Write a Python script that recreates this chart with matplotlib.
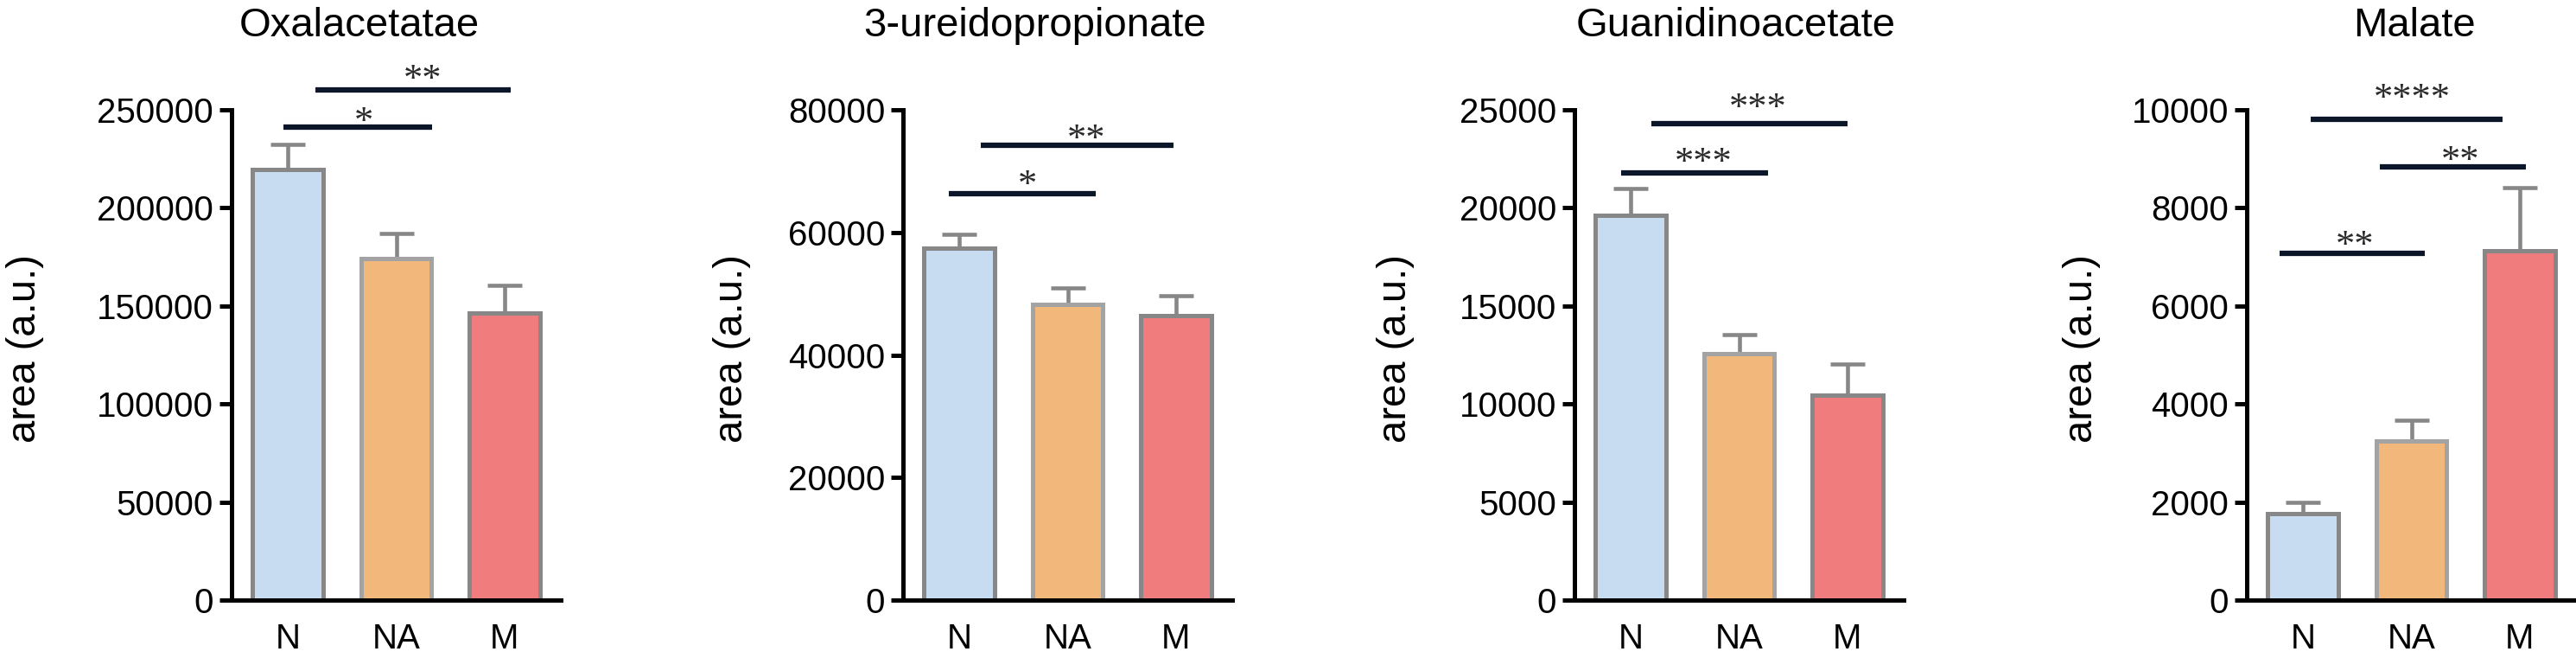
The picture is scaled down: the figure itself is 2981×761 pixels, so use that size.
import matplotlib.pyplot as plt
import numpy as np

plt.rcParams['font.family'] = ['Liberation Sans', 'DejaVu Sans']

groups = ['N', 'NA', 'M']
names = ['Oxalacetatae', '3-ureidopropionate', 'Guanidinoacetate', 'Malate']

oxa_mean = [219500, 174000, 146500]
oxa_sem = [13000, 13000, 14000]
ure_mean = [57400, 48200, 46400]
ure_sem = [2300, 2800, 3300]
gua_mean = [19600, 12550, 10450]
gua_sem = [1400, 1000, 1600]
mal_mean = [1770, 3240, 7120]
mal_sem = [215, 430, 1290]

y_max = [250000, 80000, 25000, 10000]
y_step = [50000, 20000, 5000, 2000]

# significance bars: (start, end, height, stars, star x, star y)
oxa_sig = [(-0.04, 1.33, 241000, '*', 0.70, 246500),
           (0.25, 2.06, 260000, '**', 1.24, 268100)]
ure_sig = [(-0.10, 1.26, 66300, '*', 0.63, 68570),
           (0.20, 1.98, 74200, '**', 1.17, 76050)]
gua_sig = [(-0.09, 1.27, 21800, '***', 0.67, 22575),
           (0.19, 2.00, 24300, '***', 1.17, 25350)]
mal_sig = [(-0.22, 1.12, 7070, '**', 0.48, 7337),
           (0.71, 2.06, 8830, '**', 1.45, 9065),
           (0.07, 1.84, 9800, '****', 1.01, 10335)]

means = [oxa_mean, ure_mean, gua_mean, mal_mean]
sems = [oxa_sem, ure_sem, gua_sem, mal_sem]
sigs = [oxa_sig, ure_sig, gua_sig, mal_sig]

fill = ['#c7dcf1', '#f2b77b', '#f17c7d']
edge = ['#878787', '#a3a3a3', '#878787']

W, H = 2981, 761
fig = plt.figure(figsize=(W / 100, H / 100), dpi=100)

ax_left = [268, 1045, 1822, 2600]
title_x = [416, 1198, 2009, 2794]
ylab_x = [29, 847, 1615, 2409]

x = np.arange(3)
for i in range(4):
    ax = fig.add_axes([ax_left[i] / W, 67 / H, 381 / W, 567 / H])
    ax.bar(x, means[i], width=0.65, color=fill, edgecolor=edge, linewidth=3.6, zorder=2)
    ax.errorbar(x, means[i], yerr=[np.zeros(3), sems[i]], fmt='none', ecolor='#878787',
                elinewidth=3.3, capsize=14.5, capthick=3.3, zorder=1)
    ax.set_xlim(-0.52, 2.52)
    ax.set_ylim(0, y_max[i])
    ax.set_yticks(np.arange(0, y_max[i] + 1, y_step[i]))
    ax.set_xticks(x)
    ax.set_xticklabels(groups)
    for s in ['top', 'right']:
        ax.spines[s].set_visible(False)
    for s in ['left', 'bottom']:
        ax.spines[s].set_linewidth(3.6)
    ax.tick_params(axis='y', length=10, width=3.6, labelsize=29, pad=5)
    ax.tick_params(axis='x', length=0, labelsize=29, pad=19)

    for x0, x1, yy, stars, xs, ys in sigs[i]:
        ax.plot([x0, x1], [yy, yy], color='#0c1629', lw=4.5, clip_on=False,
                solid_capstyle='butt')
        ax.annotate(stars, (xs, ys), xytext=(0, -13), textcoords='offset points',
                    ha='center', va='baseline', fontsize=32, family='Liberation Serif',
                    color='#2a2a2a', annotation_clip=False)

    fig.text(title_x[i] / W, 1 - 42 / H, names[i], ha='center', va='baseline', fontsize=34)
    fig.text(ylab_x[i] / W, 1 - 403 / H, 'area (a.u.)', rotation=90, ha='center',
             va='center', fontsize=34)

fig.savefig('out.png', dpi=100)
